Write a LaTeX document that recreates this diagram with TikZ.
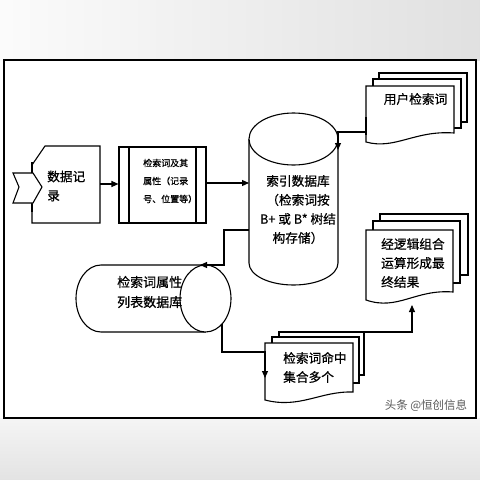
\documentclass[tikz,border=0pt]{standalone}
\usepackage{fontspec}
\newfontfamily\cjk{Noto Sans CJK SC}[FakeBold=0.7]
\newfontfamily\cjkwm{Noto Sans CJK SC}
\usetikzlibrary{arrows.meta}
\begin{document}
\begin{tikzpicture}[x=1pt,y=-1pt,
  ln/.style={draw=black, line width=1.1pt},
  arr/.style={draw=black, line width=1.1pt, -{Triangle[length=7pt,width=6pt]}},
  pg/.style={draw=black, fill=white, line width=1.1pt},
  thick mark/.style={draw=black, line width=2.4pt},
  txt/.style={inner sep=0pt, align=left, font=\cjk\fontsize{12.7}{19}\selectfont},
  smalltxt/.style={inner sep=0pt, align=left, font=\cjk\fontsize{9}{18}\selectfont},
]
\useasboundingbox (0,0) rectangle (480,480);
% photo background
\shade[left color=gray!3, right color=gray!24] (0,0) rectangle (480,60);
\shade[top color=gray!8, bottom color=gray!22] (0,418) rectangle (480,480);
% frame
\draw[line width=1.3pt, fill=white] (4,60) rectangle (476,418);

% ---- card: 数据记录
\draw[pg] (45,146) -- (100,146) -- (100,223) -- (32,223) -- (32,165) -- cycle;
\draw[thick mark] (32,162) -- (32,212);
\draw[pg] (13,173) -- (33,173) -- (42,187) -- (33,203) -- (13,203) -- (19,187) -- cycle;
\node[txt, anchor=west] (card) at (47,186) {数据记\\录};
\coordinate (cardE) at (100,184);

% ---- predefined process box
\node[draw=black, line width=1.1pt, fill=white, minimum width=87pt, minimum height=76pt, inner sep=0pt] (box) at (162.5,185) {};
\draw[line width=1.6pt] (129,147) -- (129,223);
\draw[line width=1.6pt] (196,147) -- (196,223);
\node[smalltxt, anchor=west] (boxtxt) at (143,181) {检索词及其\\属性（记录\\号、位置等）};

% ---- vertical cylinder: 索引数据库
\draw[pg] (249,139) -- (249,263)
  .. controls (249,275.2) and (268.9,285) .. (293.5,285)
  .. controls (318.1,285) and (338,275.2) .. (338,263) -- (338,139);
\draw[pg] (293.5,139) ellipse [x radius=44.5pt, y radius=26pt];
\node[txt, align=center] (db) at (298,209.5) {索引数据库\\（检索词按\\B+ 或 B* 树结\\构存储）};

% ---- horizontal cylinder: 检索词属性列表数据库
\draw[pg] (205.5,265) -- (101,265)
  .. controls (87.2,265) and (76,280) .. (76,298.5)
  .. controls (76,317) and (87.2,332) .. (101,332) -- (205.5,332);
\draw[pg] (205.5,298.5) ellipse [x radius=25.5pt, y radius=33.5pt];
\node[txt, anchor=west, font=\cjk\fontsize{13}{20}\selectfont] (attr) at (117,292) {检索词属性\\列表数据库};

% ---- multi-document: 用户检索词
\draw[pg] (379,73) rectangle (467,122);
\draw[pg] (373,79) rectangle (461,128);
\draw[pg] (366,86) -- (454,86) -- (454,133)
  .. controls (415,130) and (395,150) .. (366,142) -- cycle;
\draw[thick mark] (366,117) -- (366,135);
\node[txt] (user) at (415.5,99) {用户检索词};

% ---- multi-document: 结果
\draw[pg] (380,214) rectangle (468,275);
\draw[pg] (373,221) rectangle (460,283);
\draw[pg] (366,230) -- (453,230) -- (453,292)
  .. controls (415,289) and (398,311) .. (366,300) -- cycle;
\node[txt, anchor=west] (result) at (381,263) {经逻辑组合\\运算形成最\\终结果};

% ---- multi-document: 命中
\draw[pg] (279,332) rectangle (364,375);
\draw[pg] (272,337) rectangle (359,383);
\draw[pg] (265,343) -- (353,343) -- (353,392)
  .. controls (320,391) and (300,409) .. (265,400) -- cycle;
\draw[thick mark] (364,332) -- (364,362);
\node[txt, anchor=west] (hit) at (283,367.5) {检索词命中\\集合多个};

% ---- named connector points
\coordinate (boxE) at (206,183);
\coordinate (dbW) at (249,183);
\coordinate (userW) at (366,132);
\coordinate (dbNE) at (338,132);
\coordinate (dbArr) at (338,150);
\coordinate (dbSW) at (249,230);
\coordinate (bendA) at (224,230);
\coordinate (bendB) at (224,265);
\coordinate (attrTop) at (200,265);
\coordinate (attrSE) at (222,324);
\coordinate (bendC) at (222,352);
\coordinate (hitW) at (265,352);
\coordinate (hitArr) at (265,378);
\coordinate (hitNE) at (364,332);
\coordinate (bendD) at (412,332);
\coordinate (resS) at (412,305);

% ---- connectors
\draw[arr] (cardE) -- (box.west |- cardE);
\draw[arr] (boxE) -- (dbW);
\draw[arr] (userW) -- (dbNE) -- (dbArr);
\draw[arr] (dbSW) -- (bendA) -- (bendB) -- (attrTop);
\draw[arr] (attrSE) -- (bendC) -- (hitW) -- (hitArr);
\draw[arr] (hitNE) -- (bendD) -- (resS);

% ---- watermark
\node[inner sep=0pt, text=gray!70!black, font=\cjkwm\fontsize{11.5}{14}\selectfont] (wm) at (426,406) {头条 @恒创信息};
\end{tikzpicture}
\end{document}
